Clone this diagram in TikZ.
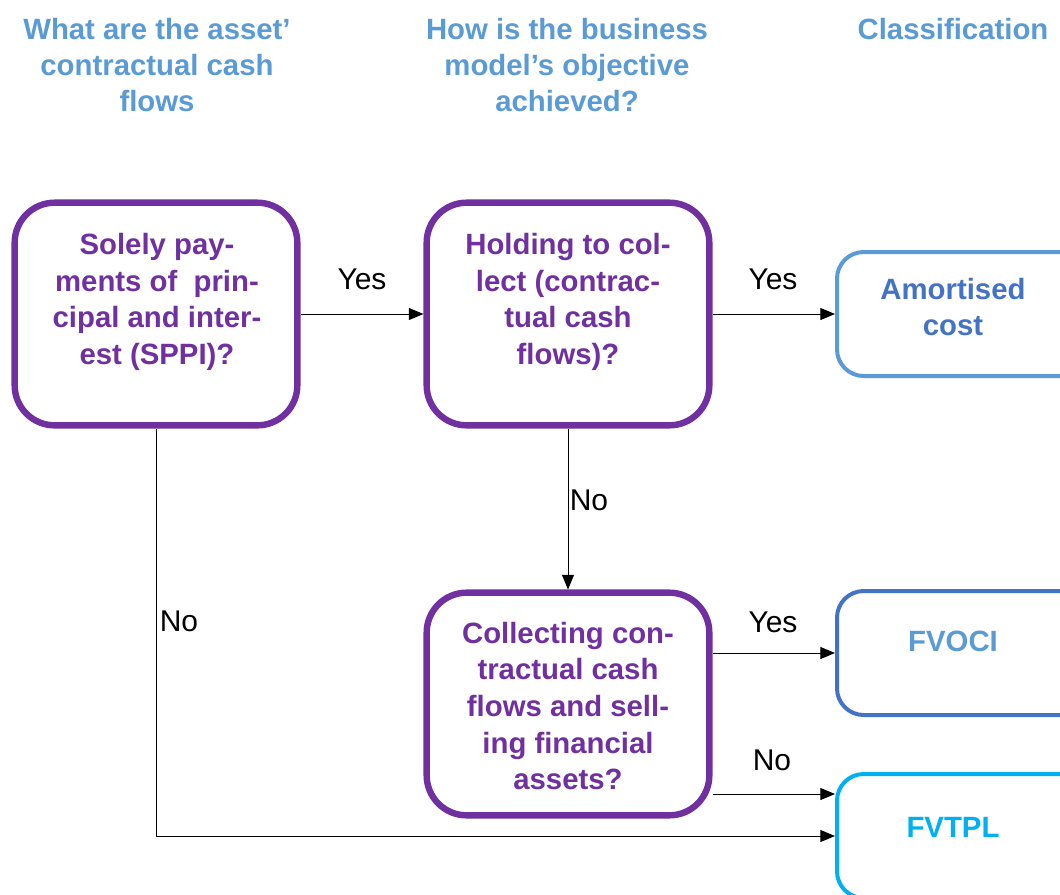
\documentclass[tikz,border=0pt]{standalone}
\usepackage{fontspec}
\setmainfont{Liberation Sans}
\usetikzlibrary{arrows.meta}
\definecolor{purp}{HTML}{7030A0}
\definecolor{lblue}{HTML}{5B9BD5}
\definecolor{mblue}{HTML}{4472C4}
\definecolor{cyanb}{HTML}{00B0F0}
\begin{document}
\begin{tikzpicture}[x=0.75pt,y=-0.75pt,
  qbox/.style={draw=purp,line width=4.8pt,rounded corners=30pt,fill=white,
    minimum width=212pt,minimum height=167pt,inner sep=0pt},
  rbox/.style={line width=3pt,rounded corners=20pt,fill=white,
    minimum width=214.5pt,minimum height=93pt,inner sep=0pt},
  qtext/.style={align=center,text=purp,font=\bfseries\fontsize{22}{27.4}\selectfont},
  rtext/.style={align=center,font=\bfseries\fontsize{22}{27.4}\selectfont},
  head/.style={align=center,text=lblue,font=\bfseries\fontsize{22}{27}\selectfont},
  lab/.style={font=\fontsize{22.5}{24}\selectfont},
  arr/.style={line width=0.75pt,-{Triangle[length=11pt,width=9pt]}}]
\clip (0,0) rectangle (1060,894);
\fill[white] (0,0) rectangle (1060,894);
% headers
\node[head] (h1) at (157,65) {What are the asset'\\contractual cash\\flows};
\node[head] (h2) at (567,65) {How is the business\\model's objective\\achieved?};
\node[head] (h3) at (953,29) {Classification};
% question boxes
\node[qbox] (sppi) at (156,314) {};
\node[qbox] (hold) at (568,314) {};
\node[qbox] (coll) at (568,704) {};
\node[qtext] (sppit) at (157,302) {Solely pay-\\ments of~ prin-\\cipal and inter-\\est (SPPI)?};
\node[qtext] (holdt) at (568,302) {Holding to col-\\lect (contrac-\\tual cash\\flows)?};
\node[qtext] (collt) at (568,706) {Collecting con-\\tractual cash\\flows and sell-\\ing financial\\assets?};
% result boxes
\node[rbox,draw=lblue] (amort) at (980,314) {};
\node[rbox,draw=mblue] (fvoci) at (980,653) {};
\node[rbox,draw=cyanb] (fvtpl) at (980,836) {};
\node[rtext,text=mblue] (amortt) at (953,307) {Amortised\\cost};
\node[rtext,text=lblue] (fvocit) at (953,641) {FVOCI};
\node[rtext,text=cyanb] (fvtplt) at (953,827) {FVTPL};
% connectors
\coordinate (fvtplin) at ([yshift=31.5pt]fvtpl.west);
\draw[arr] (sppi.east) -- (hold.west);
\draw[arr] (hold.east) -- (amort.west);
\draw[arr] (hold.south) -- (coll.north);
\draw[arr] (coll.east |- fvoci.west) -- (fvoci.west);
\draw[arr] (coll.east |- fvtplin) -- (fvtplin);
\draw[arr] (sppi.south) |- (fvtpl.west);
% labels
\node[lab] (l1) at (362,279) {Yes};
\node[lab] (l2) at (773,279) {Yes};
\node[lab] (l3) at (589,500) {No};
\node[lab] (l4) at (179,621) {No};
\node[lab] (l5) at (773,622) {Yes};
\node[lab] (l6) at (772,760) {No};
\end{tikzpicture}
\end{document}
